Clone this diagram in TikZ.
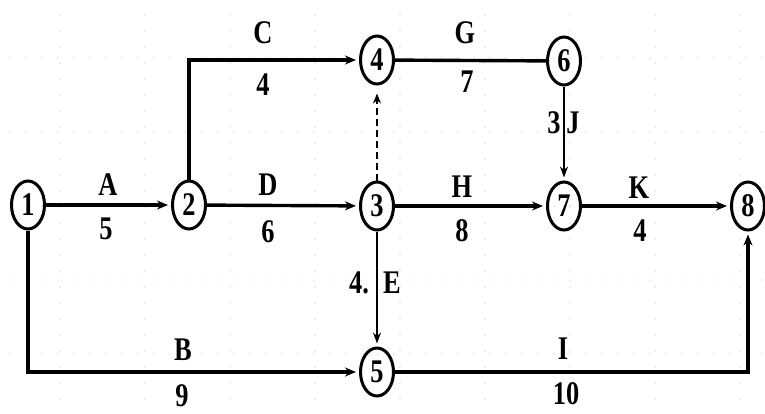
\documentclass[tikz,border=0pt]{standalone}
\usepackage{fontspec}
\setmainfont{Liberation Serif}
\usetikzlibrary{arrows.meta,shapes.geometric}
\newcommand\nsq[1]{\scalebox{0.8}[1]{#1}}
\tikzset{
  ev/.style={draw, ellipse, line width=3pt, minimum width=33pt, minimum height=48pt, inner sep=0pt,
    font=\fontsize{33}{33}\selectfont\bfseries},
  lab/.style={inner sep=0pt, font=\fontsize{33}{33}\selectfont\bfseries},
  act/.style={line width=3.4pt, -{Stealth[length=11pt,width=9pt]}, shorten >=3pt},
  actn/.style={line width=3.4pt},
  actv/.style={line width=2.4pt, -{Stealth[length=11pt,width=8pt]}, shorten >=3pt},
  dum/.style={line width=2.6pt, dash pattern=on 7pt off 4pt, -{Stealth[length=10pt,width=8pt]}, shorten >=8pt},
  gridd/.style={gray!60, line width=1.1pt, line cap=round, dash pattern=on 0pt off 16pt}
}
\begin{document}
\begin{tikzpicture}[x=1pt,y=-1pt]
\useasboundingbox (0,0) rectangle (765,413);
\fill[white] (0,0) rectangle (765,413);
% dotted grid
\foreach \gx in {60,145,230,315,400,485,570,655,740}
  \draw[gridd] (\gx,15) -- (\gx,413);
\foreach \gy in {58,132,206,280,354}
  \draw[gridd] (10,\gy) -- (765,\gy);
% events
\node[ev] (n1) at (28,205) {\nsq{1}};
\node[ev] (n2) at (189,205) {\nsq{2}};
\node[ev] (n3) at (377,206) {\nsq{3}};
\node[ev] (n4) at (377,60) {\nsq{4}};
\node[ev] (n5) at (377,372) {\nsq{5}};
\node[ev] (n6) at (564,61) {\nsq{6}};
\node[ev] (n7) at (564,206) {\nsq{7}};
\node[ev] (n8) at (748,206) {\nsq{8}};
% activities
\draw[act] (n1) -- (n2);
\draw[act] (n2) |- (n4);
\draw[act] (n2) -- (n3);
\draw[actn] (n4) -- (n6);
\draw[act] (n3) -- (n7);
\draw[act] (n7) -- (n8);
\draw[actv] (n6) -- (n7);
\draw[actv] (n3) -- (n5);
\draw[dum] (n3) -- (n4);
\draw[act] (n1) |- (n5);
\draw[act] (n5) -| (n8);
% labels
\node[lab] (la) at (108,185) {\nsq{A}};
\node[lab] (la2) at (106,229) {\nsq{5}};
\node[lab] (lc) at (263,33) {\nsq{C}};
\node[lab] (lc2) at (263,85) {\nsq{4}};
\node[lab] (ld) at (268,185) {\nsq{D}};
\node[lab] (ld2) at (268,232) {\nsq{6}};
\node[lab] (lg) at (465,33) {\nsq{G}};
\node[lab] (lg2) at (467,82) {\nsq{7}};
\node[lab] (lh) at (462,187) {\nsq{H}};
\node[lab] (lh2) at (462,231) {\nsq{8}};
\node[lab] (lk) at (639,188) {\nsq{K}};
\node[lab] (lk2) at (640,231) {\nsq{4}};
\node[lab] (lj2) at (554,123) {\nsq{3}};
\node[lab] (lj) at (573,123) {\nsq{J}};
\node[lab] (le2) at (359,283) {\nsq{4.}};
\node[lab] (le) at (392,283) {\nsq{E}};
\node[lab] (lb) at (183,350) {\nsq{B}};
\node[lab] (lb2) at (182,396) {\nsq{9}};
\node[lab] (li) at (563,349) {\nsq{I}};
\node[lab] (li2) at (566,394) {\nsq{10}};
\end{tikzpicture}
\end{document}
